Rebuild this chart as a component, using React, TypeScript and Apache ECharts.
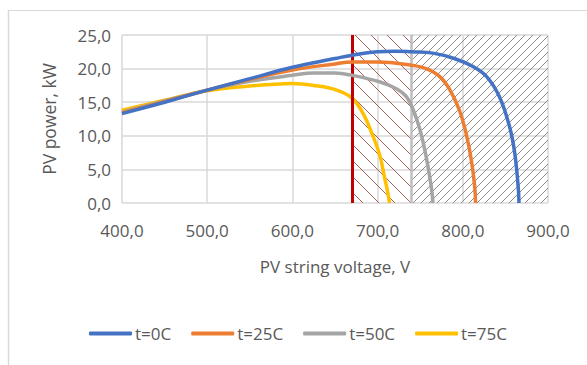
import React, { useEffect, useRef } from 'react';
import * as echarts from 'echarts';

// Categories / legend names
const seriesNames = ['t=0C', 't=25C', 't=50C', 't=75C'];
const seriesColors = ['#4472c4', '#ed7d31', '#a5a5a5', '#ffc000'];

// t=0C
const volt0 = [400, 450, 500, 550, 600, 650, 670, 700, 720, 740, 765, 790, 812, 828, 843, 855, 861, 865, 866];
const power0 = [13.3, 15.0, 16.8, 18.5, 20.2, 21.5, 22.0, 22.5, 22.6, 22.5, 22.3, 21.5, 20.3, 18.8, 15.8, 11.3, 7.4, 2.4, 0];
// t=25C
const volt25 = [400, 450, 500, 550, 600, 650, 670, 700, 740, 757, 773, 785, 796, 804, 810, 814, 815];
const power25 = [13.4, 15.1, 16.8, 18.4, 19.8, 20.7, 21.0, 21.0, 20.5, 20.0, 18.8, 16.8, 13.8, 10.3, 6.4, 2.4, 0];
// t=50C
const volt50 = [400, 450, 500, 550, 600, 625, 650, 670, 703, 722, 734, 742, 750, 757, 763, 765];
const power50 = [13.5, 15.2, 16.8, 18.1, 19.0, 19.35, 19.35, 19.0, 18.0, 17.0, 15.8, 13.8, 10.8, 6.9, 2.4, 0];
// t=75C
const volt75 = [400, 450, 500, 550, 585, 600, 625, 652, 670, 683, 695, 703, 708, 712, 714];
const power75 = [13.8, 15.3, 16.7, 17.4, 17.7, 17.8, 17.5, 16.8, 15.6, 13.3, 9.8, 6.9, 3.9, 1.5, 0];

// Limits (V)
const minMpptVoltage = 670;
const inverterLimitVoltage = 740;
const axisMaxVoltage = 900;

// Axis ticks
const xTicks = [400, 900, 100]; // min, max, interval
const yTicks = [0, 25, 5];

const zip = (xs: number[], ys: number[]) => xs.map((x, i) => [x, ys[i]]);
const fmt = (v: number) => v.toFixed(1).replace('.', ',');

function makeHatch(size: number, color: string, dir: 'fwd' | 'back', lw: number) {
  const c = document.createElement('canvas');
  c.width = size;
  c.height = size;
  const ctx = c.getContext('2d')!;
  ctx.strokeStyle = color;
  ctx.lineWidth = lw;
  for (const o of [-size, 0, size]) {
    ctx.beginPath();
    if (dir === 'fwd') {
      ctx.moveTo(o, size);
      ctx.lineTo(o + size, 0);
    } else {
      ctx.moveTo(o, 0);
      ctx.lineTo(o + size, size);
    }
    ctx.stroke();
  }
  return c;
}

export default function App() {
  const ref = useRef<HTMLDivElement>(null);
  useEffect(() => {
    if (!ref.current) return;
    const chart = echarts.init(ref.current, undefined, { renderer: 'svg' });
    const font = "'Open Sans', 'Noto Sans', sans-serif";
    const textColor = '#595959';
    const redHatch = makeHatch(16, '#a8625e', 'back', 1);
    const grayHatch = makeHatch(8, '#8c8c8c', 'fwd', 1);
    const dataSets = [zip(volt0, power0), zip(volt25, power25), zip(volt50, power50), zip(volt75, power75)];

    chart.setOption({
      animation: false,
      textStyle: { fontFamily: font },
      grid: { left: 122, right: 39, top: 35, bottom: 162, containLabel: false },
      graphic: [
        { type: 'line', shape: { x1: 8, y1: 10.5, x2: 587, y2: 10.5 }, style: { stroke: '#d9d9d9', lineWidth: 1 } },
        { type: 'line', shape: { x1: 8.5, y1: 10, x2: 8.5, y2: 365 }, style: { stroke: '#d9d9d9', lineWidth: 1.5 } },
      ],
      legend: {
        data: seriesNames,
        left: 89,
        top: 325,
        padding: 0,
        icon: 'roundRect',
        itemWidth: 43,
        itemHeight: 4,
        itemGap: 20,
        textStyle: { color: textColor, fontSize: 17, fontFamily: font, padding: [0, 0, 0, -2] },
      },
      xAxis: {
        type: 'value',
        min: xTicks[0],
        max: xTicks[1],
        interval: xTicks[2],
        name: 'PV string voltage, V',
        nameLocation: 'middle',
        nameGap: 55,
        nameTextStyle: { color: textColor, fontSize: 17, fontFamily: font },
        axisLine: { show: false },
        axisTick: { show: false },
        axisLabel: { color: textColor, fontSize: 17, fontFamily: font, margin: 19, formatter: fmt },
        splitLine: { show: true, lineStyle: { color: '#d9d9d9', width: 1.5 } },
      },
      yAxis: {
        type: 'value',
        min: yTicks[0],
        max: yTicks[1],
        interval: yTicks[2],
        name: 'PV power, kW',
        nameLocation: 'middle',
        nameGap: 64,
        nameTextStyle: { color: textColor, fontSize: 17.5, fontFamily: font },
        axisLine: { show: false },
        axisTick: { show: false },
        axisLabel: { color: textColor, fontSize: 17, fontFamily: font, margin: 11, formatter: fmt },
        splitLine: { show: true, lineStyle: { color: '#d9d9d9', width: 1.5 } },
      },
      series: [
        {
          name: 'zones',
          type: 'line',
          data: [],
          silent: true,
          markArea: {
            silent: true,
            data: [
              [
                { xAxis: minMpptVoltage, yAxis: yTicks[0], itemStyle: { color: { image: redHatch, repeat: 'repeat' } } },
                { xAxis: inverterLimitVoltage, yAxis: yTicks[1] },
              ],
              [
                { xAxis: inverterLimitVoltage, yAxis: yTicks[0], itemStyle: { color: { image: grayHatch, repeat: 'repeat' } } },
                { xAxis: axisMaxVoltage, yAxis: yTicks[1] },
              ],
            ],
          },
          markLine: {
            silent: true,
            symbol: ['none', 'none'],
            label: { show: false },
            data: [
              { xAxis: inverterLimitVoltage, lineStyle: { color: '#bfbfbf', width: 2.5, type: 'solid' } },
              { xAxis: minMpptVoltage, lineStyle: { color: '#c00000', width: 3, type: 'solid' } },
            ],
          },
        },
        ...seriesNames.map((name, i) => ({
          name,
          type: 'line',
          data: dataSets[i],
          smooth: 0.4,
          showSymbol: false,
          symbol: 'none',
          color: seriesColors[i],
          lineStyle: { color: seriesColors[i], width: 3.5 },
          z: 3 + (seriesNames.length - i),
        })),
      ],
    });
    return () => chart.dispose();
  }, []);
  return (
    <div
      ref={ref}
      style={{ position: 'fixed', left: 0, top: 0, width: 587, height: 365, background: '#ffffff' }}
    />
  );
}
